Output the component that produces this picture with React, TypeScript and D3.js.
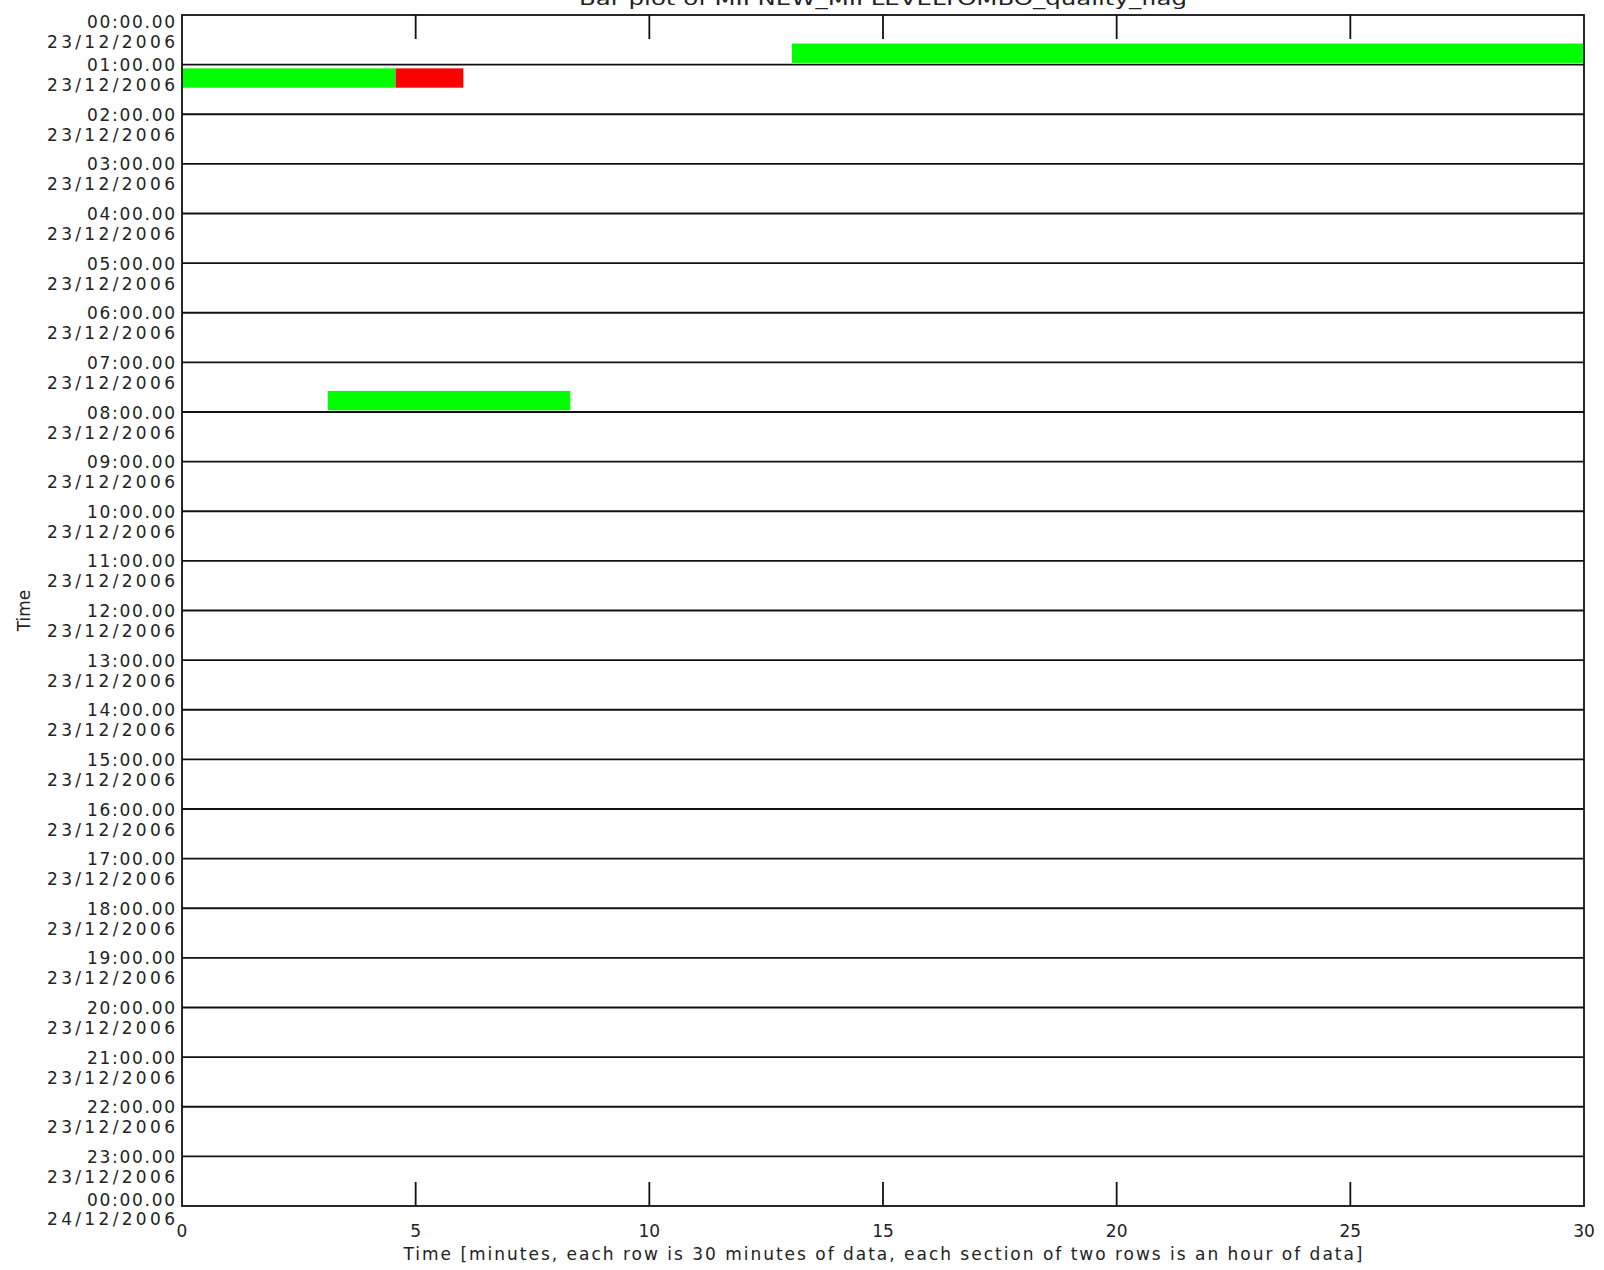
import React from "react";
import * as d3 from "d3";

// ---- data ----
const hourLabels = [
  "00:00.00", "01:00.00", "02:00.00", "03:00.00", "04:00.00", "05:00.00",
  "06:00.00", "07:00.00", "08:00.00", "09:00.00", "10:00.00", "11:00.00",
  "12:00.00", "13:00.00", "14:00.00", "15:00.00", "16:00.00", "17:00.00",
  "18:00.00", "19:00.00", "20:00.00", "21:00.00", "22:00.00", "23:00.00",
  "00:00.00",
];
const dateLabels = [
  ...Array(24).fill("23/12/2006"),
  "24/12/2006",
];
const xTicks = [0, 5, 10, 15, 20, 25, 30];

// segments: half-hour row index (0..47), start minute, end minute, flag
const segRow = [1, 2, 2, 15];
const segStart = [13.05, 0, 4.57, 3.12];
const segEnd = [30, 4.57, 6.02, 8.31];
const segFlag = ["good", "good", "bad", "good"];

const flagColor: Record<string, string> = { good: "#00ff00", bad: "#ff0000" };

const title = "Bar plot of MIPNEW_MIPLEVELTOMBO_quality_flag";
const xTitle =
  "Time [minutes, each row is 30 minutes of data, each section of two rows is an hour of data]";
const yTitle = "Time";

export default function App() {
  const W = 1604, H = 1270;
  const left = 182, right = 1584, top = 15, bottom = 1206;
  const x = d3.scaleLinear().domain([0, 30]).range([left, right]);
  const y = d3.scaleLinear().domain([0, 48]).range([top, bottom]);
  const rowH = y(1) - y(0);
  const font = "'DejaVu Sans', sans-serif";
  const fs = 17;

  return (
    <svg
      width={W}
      height={H}
      style={{ position: "absolute", left: 0, top: 0, background: "#fff" }}
      fontFamily={font}
    >
      <rect x={0} y={0} width={W} height={H} fill="#fff" />
      {/* title (clipped at top) */}
      <text x={(left + right) / 2} y={5} textAnchor="middle" fontSize={fs}
        textLength={608} lengthAdjust="spacingAndGlyphs" fill="#222">
        {title}
      </text>

      {/* bars */}
      {segRow.map((r, i) => (
        <rect
          key={i}
          x={x(segStart[i])}
          y={y(r) + rowH * 0.15}
          width={x(segEnd[i]) - x(segStart[i])}
          height={rowH * 0.78}
          fill={flagColor[segFlag[i]]}
        />
      ))}

      {/* hour section lines */}
      {d3.range(1, 24).map((k) => (
        <line key={k} x1={left} x2={right} y1={y(2 * k)} y2={y(2 * k)}
          stroke="#111" strokeWidth={1.8} />
      ))}

      {/* frame */}
      <rect x={left} y={top} width={right - left} height={bottom - top}
        fill="none" stroke="#111" strokeWidth={1.8} />

      {/* x ticks top & bottom */}
      {xTicks.slice(1, -1).map((t) => (
        <g key={t}>
          <line x1={x(t)} x2={x(t)} y1={top} y2={top + 24} stroke="#111" strokeWidth={1.8} />
          <line x1={x(t)} x2={x(t)} y1={bottom} y2={bottom - 24} stroke="#111" strokeWidth={1.8} />
        </g>
      ))}
      {xTicks.map((t) => (
        <text key={t} x={x(t)} y={1237} textAnchor="middle" fontSize={fs} fill="#222">
          {t}
        </text>
      ))}

      {/* y labels */}
      {hourLabels.map((h, k) => {
        const b = y(2 * k);
        let b1 = b + 6.5, b2 = b + 26.5;
        if (k === 0) { b1 = top + 13; b2 = top + 33; }
        if (k === 24) { b1 = bottom; b2 = bottom + 19; }
        return (
          <g key={k}>
            <text x={175} y={b1} textAnchor="end" fontSize={fs} fill="#222"
              textLength={88} lengthAdjust="spacing">{h}</text>
            <text x={175} y={b2} textAnchor="end" fontSize={fs} fill="#222"
              textLength={128} lengthAdjust="spacing">{dateLabels[k]}</text>
          </g>
        );
      })}

      {/* axis titles */}
      <text x={(left + right) / 2} y={1260} textAnchor="middle" fontSize={fs}
        fill="#222" textLength={959} lengthAdjust="spacing">{xTitle}</text>
      <text transform={`translate(30, ${(top + bottom) / 2}) rotate(-90)`}
        textAnchor="middle" fontSize={fs} fill="#222">{yTitle}</text>
    </svg>
  );
}
